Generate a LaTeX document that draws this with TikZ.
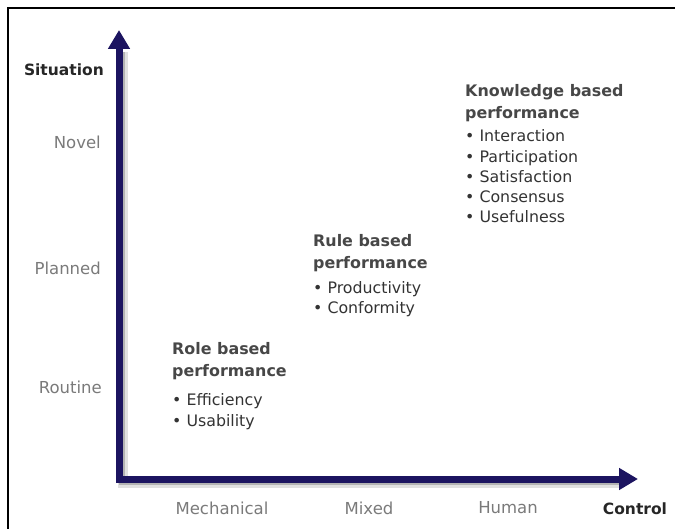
\documentclass[tikz,border=0pt]{standalone}
\usepackage{fontspec}
\setmainfont{DejaVu Sans}
\usetikzlibrary{arrows.meta}
\definecolor{axisblue}{RGB}{28,20,96}
\begin{document}
\begin{tikzpicture}[
    x=1pt,
    y=-1pt,
    axis/.style={line width=7pt, draw=axisblue, line join=miter,
        {Triangle[length=19pt,width=21pt]}-{Triangle[length=19pt,width=21pt]}},
    axisshadow/.style={line width=10pt, draw=black, opacity=0.12, line join=miter},
    ticklabel/.style={font=\fontsize{16.5}{20}\selectfont, text=black!52, inner sep=0pt},
    axistitle/.style={font=\bfseries\fontsize{15.5}{20}\selectfont, text=black!85, inner sep=0pt},
    blocktitle/.style={font=\bfseries\fontsize{15.9}{22}\selectfont, text=black!72,
        align=left, inner sep=0pt, anchor=base west},
    bullets/.style={font=\fontsize{15.8}{20.3}\selectfont, text=black!80,
        align=left, inner sep=0pt, anchor=base west}
]
    \useasboundingbox (0,0) rectangle (675,529);

    % frame
    \draw[line width=2pt] (8,529) -- (8,8) -- (675,8);

    % axes
    \coordinate (origin) at (119,479);
    \coordinate (ytip) at (119,30);
    \coordinate (xtip) at (638,479);
    \draw[axisshadow] ([shift={(4,22)}]ytip) -- ([shift={(4,4)}]origin) -- ([shift={(-18,4)}]xtip);
    \draw[axisshadow, line width=6pt, opacity=0.2] ([shift={(3,22)}]ytip) -- ([shift={(3,3)}]origin) -- ([shift={(-18,3)}]xtip);
    \draw[axis] (ytip) -- (origin) -- (xtip);

    % vertical axis
    \node[axistitle, anchor=east] (situation) at (104,70) {Situation};
    \node[ticklabel, anchor=east] (novel) at (101,142) {Novel};
    \node[ticklabel, anchor=east] (planned) at (101,268) {Planned};
    \node[ticklabel, anchor=east] (routine) at (102,387) {Routine};

    % horizontal axis
    \node[ticklabel] (mechanical) at (222,508) {Mechanical};
    \node[ticklabel] (mixed) at (369,508) {Mixed};
    \node[ticklabel] (human) at (508,508) {Human};
    \node[axistitle] (control) at (635,509) {Control};

    % role based (anchored at the last line)
    \node[blocktitle] (roletitle) at (172,377) {Role based\\performance};
    \node[bullets] (rolelist) at (172,426) {\textbullet\ Efficiency\\\textbullet\ Usability};

    % rule based
    \node[blocktitle] (ruletitle) at (313,269) {Rule based\\performance};
    \node[bullets] (rulelist) at (313,314) {\textbullet\ Productivity\\\textbullet\ Conformity};

    % knowledge based
    \node[blocktitle] (knowtitle) at (465,119) {Knowledge based\\performance};
    \node[bullets] (knowlist) at (465,223) {\textbullet\ Interaction\\\textbullet\ Participation\\\textbullet\ Satisfaction\\\textbullet\ Consensus\\\textbullet\ Usefulness};

\end{tikzpicture}
\end{document}
